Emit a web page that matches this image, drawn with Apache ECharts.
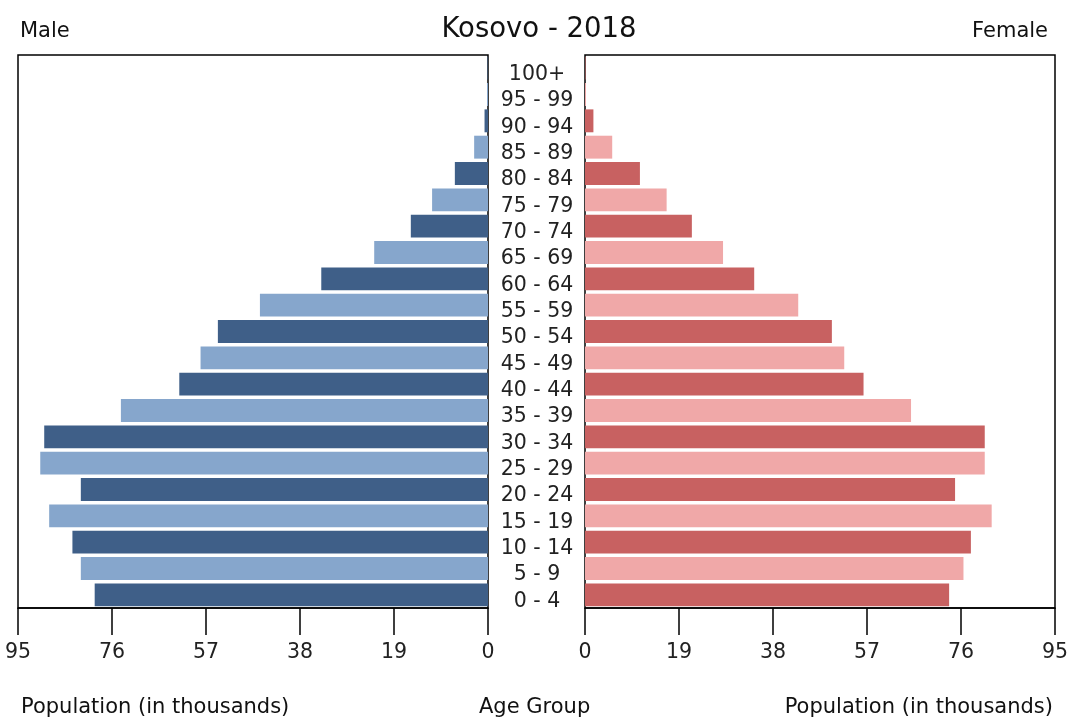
<!DOCTYPE html>
<html>
<head>
<meta charset="utf-8">
<title>Kosovo - 2018</title>
<script src="https://cdn.jsdelivr.net/npm/echarts@6/dist/echarts.min.js"></script>
<style>
  html, body { margin: 0; padding: 0; background: #fff; }
  #chart { width: 1078px; height: 723px; }
</style>
</head>
<body>
<div id="chart"></div>
<script>
// age groups, bottom to top
const ageGroups = ['0 - 4', '5 - 9', '10 - 14', '15 - 19', '20 - 24', '25 - 29', '30 - 34',
  '35 - 39', '40 - 44', '45 - 49', '50 - 54', '55 - 59', '60 - 64', '65 - 69', '70 - 74',
  '75 - 79', '80 - 84', '85 - 89', '90 - 94', '95 - 99', '100+'];

// population in thousands
const male = [79.5, 82.3, 84.0, 88.7, 82.3, 90.5, 89.7, 74.2, 62.4, 58.1, 54.6, 46.1,
  33.7, 23.0, 15.6, 11.3, 6.7, 2.8, 0.7, 0.2, 0.1];
const female = [73.6, 76.5, 78.0, 82.2, 74.8, 80.8, 80.8, 65.9, 56.3, 52.4, 49.9, 43.1,
  34.2, 27.9, 21.6, 16.5, 11.1, 5.5, 1.7, 0.2, 0.1];

const xTicks = [0, 19, 38, 57, 76, 95];

const maleColors = ['#3f5f88', '#86a6cc'];
const femaleColors = ['#c86161', '#f0a8a8'];

const font = 'DejaVu Sans';

function initChart() {
  let myChart = echarts.init(document.getElementById('chart'));

  let xAxisBase = {
    type: 'value',
    min: xTicks[0],
    max: xTicks[xTicks.length - 1],
    interval: 19,
    splitLine: { show: false },
    axisLine: { show: true, lineStyle: { color: '#000', width: 1.5 } },
    axisTick: { show: true, inside: false, length: 27, lineStyle: { color: '#000', width: 1.5 } },
    axisLabel: { color: '#222', fontSize: 20.5, fontFamily: font, margin: 34 }
  };

  let labelStyle = { fontWeight: 'normal', color: '#111', fontFamily: font };

  let options = {
    animation: false,
    backgroundColor: '#fff',
    title: [
      { text: 'Kosovo - 2018', left: 'center', top: 11,
        textStyle: Object.assign({ fontSize: 27.5 }, labelStyle) },
      { text: 'Male', left: 15, top: 16,
        textStyle: Object.assign({ fontSize: 21 }, labelStyle) },
      { text: 'Female', right: 25, top: 16,
        textStyle: Object.assign({ fontSize: 21 }, labelStyle) },
      { text: 'Population (in thousands)', left: 16, top: 692,
        textStyle: Object.assign({ fontSize: 21 }, labelStyle) },
      { text: 'Age Group', left: 474, top: 692,
        textStyle: Object.assign({ fontSize: 21 }, labelStyle) },
      { text: 'Population (in thousands)', right: 20, top: 692,
        textStyle: Object.assign({ fontSize: 21 }, labelStyle) }
    ],
    grid: [
      { left: 18, right: 590, top: 55, bottom: 115, show: true, borderColor: '#000', borderWidth: 1.5, backgroundColor: '#fff' },
      { left: 585, right: 23, top: 55, bottom: 115, show: true, borderColor: '#000', borderWidth: 1.5, backgroundColor: '#fff' }
    ],
    xAxis: [
      Object.assign({}, xAxisBase, { gridIndex: 0, inverse: true }),
      Object.assign({}, xAxisBase, { gridIndex: 1 })
    ],
    yAxis: [
      {
        type: 'category', gridIndex: 0, data: ageGroups, show: false
      },
      {
        type: 'category', gridIndex: 1, data: ageGroups, position: 'left',
        axisLine: { show: false },
        axisTick: { show: false },
        axisLabel: {
          interval: 0, align: 'center', margin: 48,
          formatter: (v) => '{a|' + v + '}',
          rich: {
            a: { fontSize: 20.5, color: '#222', fontFamily: font, padding: [13, 0, 0, 0] }
          }
        }
      }
    ],
    series: [
      {
        name: 'Male',
        type: 'bar',
        xAxisIndex: 0,
        yAxisIndex: 0,
        barCategoryGap: '13%',
        data: male.map((v, i) => ({ value: v, itemStyle: { color: maleColors[i % 2] } }))
      },
      {
        name: 'Female',
        type: 'bar',
        xAxisIndex: 1,
        yAxisIndex: 1,
        barCategoryGap: '13%',
        data: female.map((v, i) => ({ value: v, itemStyle: { color: femaleColors[i % 2] } }))
      }
    ]
  };
  myChart.setOption(options);
}

initChart();
</script>
</body>
</html>
